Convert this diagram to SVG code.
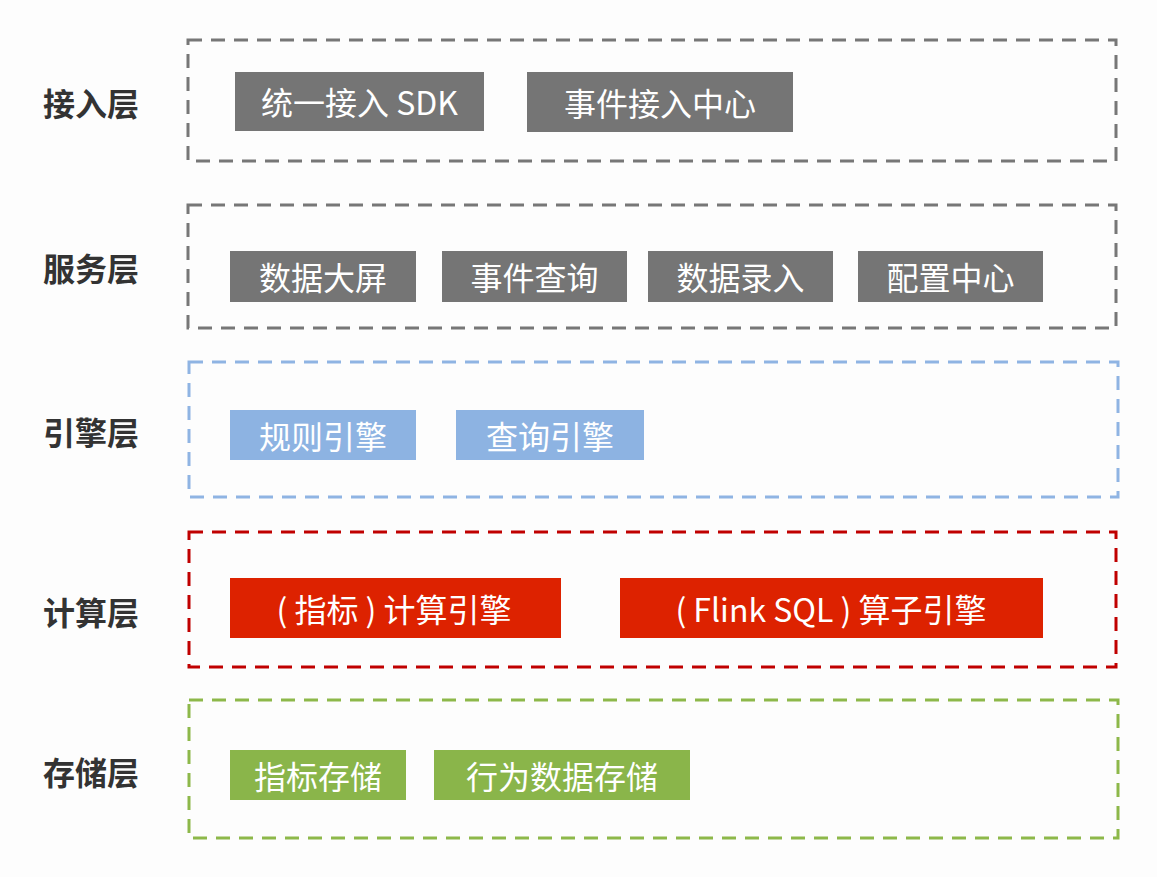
<svg xmlns="http://www.w3.org/2000/svg" width="1157" height="877" viewBox="0 0 1157 877">
<style>
.lbl{font-family:"Noto Sans CJK SC","Liberation Sans",sans-serif;font-size:32px;font-weight:bold;fill:#333;dominant-baseline:central}
.nt{font-family:"Noto Sans CJK SC","Liberation Sans",sans-serif;font-size:32px;fill:#fff;text-anchor:middle;dominant-baseline:central}
.lay{fill:none;stroke-width:3;stroke-dasharray:14 9}
.g{fill:#757575}.b{fill:#8db3e2}.r{fill:#dd2200}.gr{fill:#8ab54a}
</style>
<rect width="1157" height="877" fill="#fdfdfd"/>
<g id="layer-access">
<rect class="lay" x="188" y="40" width="928" height="121" stroke="#777"/>
<text class="lbl" x="43" y="102">接入层</text>
</g>
<g id="node-sdk"><rect class="g" x="235" y="72" width="249" height="59"/><text class="nt" x="359.5" y="101">统一接入 SDK</text></g>
<g id="node-event-center"><rect class="g" x="527" y="72" width="266" height="60"/><text class="nt" x="660" y="101.5">事件接入中心</text></g>
<g id="layer-service">
<rect class="lay" x="188" y="205" width="928" height="123" stroke="#777"/>
<text class="lbl" x="43" y="267">服务层</text>
</g>
<g id="node-dashboard"><rect class="g" x="230" y="251" width="186" height="51"/><text class="nt" x="323" y="276">数据大屏</text></g>
<g id="node-event-query"><rect class="g" x="442" y="251" width="185" height="51"/><text class="nt" x="534.5" y="276">事件查询</text></g>
<g id="node-data-entry"><rect class="g" x="648" y="251" width="185" height="51"/><text class="nt" x="740.5" y="276">数据录入</text></g>
<g id="node-config"><rect class="g" x="858" y="251" width="185" height="51"/><text class="nt" x="950.5" y="276">配置中心</text></g>
<g id="layer-engine">
<rect class="lay" x="189" y="362" width="929" height="135" stroke="#8fb4e3"/>
<text class="lbl" x="43" y="431">引擎层</text>
</g>
<g id="node-rule"><rect class="b" x="230" y="410" width="186" height="50"/><text class="nt" x="323" y="434.5">规则引擎</text></g>
<g id="node-query"><rect class="b" x="456" y="410" width="188" height="50"/><text class="nt" x="550" y="434.5">查询引擎</text></g>
<g id="layer-compute">
<rect class="lay" x="189" y="532" width="927" height="135" stroke="#c00000"/>
<text class="lbl" x="43" y="611">计算层</text>
</g>
<g id="node-metric-engine"><rect class="r" x="230" y="578" width="331" height="60"/><text class="nt" x="394" y="607.5">( 指标 ) 计算引擎</text></g>
<g id="node-flink"><rect class="r" x="620" y="578" width="423" height="60"/><text class="nt" x="831" y="607.5">( Flink SQL ) 算子引擎</text></g>
<g id="layer-storage">
<rect class="lay" x="189" y="700" width="929" height="138" stroke="#8db84a"/>
<text class="lbl" x="43" y="771">存储层</text>
</g>
<g id="node-metric-store"><rect class="gr" x="230" y="750" width="176" height="50"/><text class="nt" x="318" y="774.5">指标存储</text></g>
<g id="node-behavior-store"><rect class="gr" x="434" y="750" width="256" height="50"/><text class="nt" x="562" y="774.5">行为数据存储</text></g>
<g id="connectors"></g>
</svg>
